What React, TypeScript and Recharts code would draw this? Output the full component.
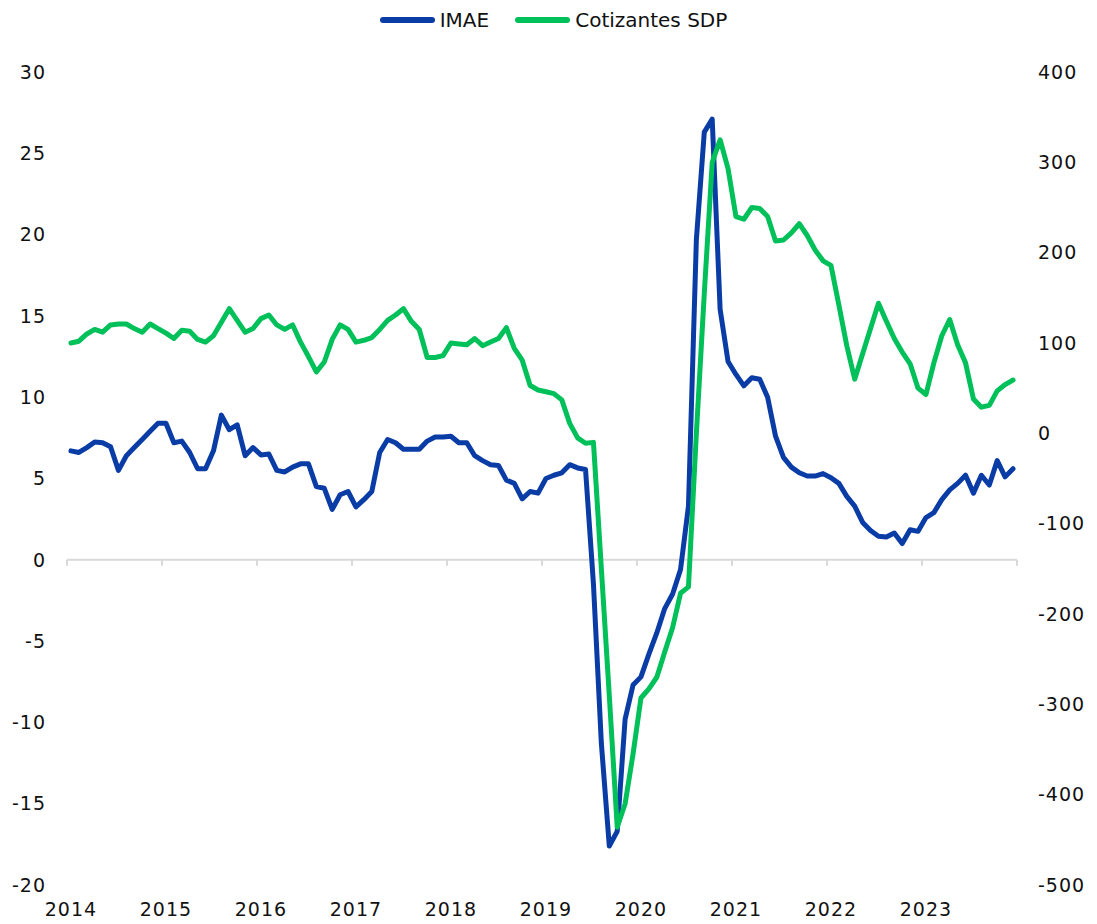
import React from 'react';
import { LineChart, Line, XAxis, YAxis, ReferenceLine, Legend } from 'recharts';

const FONT = '"DejaVu Sans", sans-serif';
const BLUE = '#0a3ca6';
const GREEN = '#00c05a';

const years = ['2014', '2015', '2016', '2017', '2018', '2019', '2020', '2021', '2022', '2023'];
const leftTicks = [-20, -15, -10, -5, 0, 5, 10, 15, 20, 25, 30];
const rightTicks = [-500, -400, -300, -200, -100, 0, 100, 200, 300, 400];

// IMAE, monthly (left axis)
const imae = [
  6.7, 6.6, 6.9, 7.25, 7.2, 6.95, 5.5, 6.4, 6.9, 7.4, 7.9, 8.4,
  8.4, 7.2, 7.3, 6.6, 5.6, 5.6, 6.7, 8.9, 8.0, 8.3, 6.4, 6.9,
  6.45, 6.5, 5.5, 5.4, 5.7, 5.9, 5.9, 4.5, 4.4, 3.1, 4.0, 4.2,
  3.25, 3.7, 4.2, 6.6, 7.4, 7.2, 6.8, 6.8, 6.8, 7.3, 7.55, 7.55,
  7.6, 7.2, 7.2, 6.4, 6.1, 5.85, 5.8, 4.9, 4.7, 3.75, 4.2, 4.1,
  5.0, 5.2, 5.35, 5.85, 5.65, 5.55, -1.5, -11.3, -17.6, -16.7, -9.8, -7.7,
  -7.2, -5.8, -4.5, -3.0, -2.1, -0.6, 3.3, 19.7, 26.3, 27.1, 15.4, 12.2,
  11.4, 10.7, 11.2, 11.1, 10.0, 7.6, 6.3, 5.7, 5.35, 5.15, 5.15, 5.3,
  5.05, 4.7, 3.9, 3.3, 2.3, 1.8, 1.45, 1.4, 1.65, 1.0, 1.85, 1.75,
  2.6, 2.9, 3.7, 4.3, 4.7, 5.2, 4.1, 5.2, 4.6, 6.1, 5.1, 5.6,
];

// Cotizantes SDP, monthly (right axis)
const cotizantes = [
  100, 102, 110, 115, 112, 120, 121, 121, 116, 112, 121, 116,
  111, 105, 114, 113, 104, 101, 108, 123, 138, 125, 112, 116,
  127, 131, 120, 115, 120, 101, 85, 68, 79, 104, 120, 115,
  101, 103, 106, 115, 125, 131, 138, 124, 115, 84, 84, 86,
  100, 99, 98, 105, 97, 101, 105, 117, 94, 81, 53, 48,
  46, 44, 37, 11, -5, -11, -10, -150, -290, -436, -410, -355,
  -293, -283, -270, -242, -215, -177, -170, 0, 155, 300, 325, 293,
  240, 237, 250, 249, 240, 213, 214, 222, 232, 219, 203, 191,
  186, 142, 97, 60, 88, 116, 144, 124, 105, 90, 77, 50,
  43, 78, 108, 126, 98, 78, 38, 29, 31, 47, 54, 59,
];

const data = imae.map((v, i) => ({ x: i + 0.5, imae: v, cotizantes: cotizantes[i] }));
const labelTicks = years.map((_, k) => k * 12 + 0.5);
const yearBounds = [...years.map((_, k) => k * 12), years.length * 12];

const series = [
  { name: 'IMAE', color: BLUE },
  { name: 'Cotizantes SDP', color: GREEN },
];

const LegendContent = () => (
  <div
    style={{
      display: 'flex',
      justifyContent: 'center',
      alignItems: 'center',
      gap: 26,
      paddingLeft: 10,
      fontFamily: FONT,
      fontSize: 20,
      lineHeight: '24px',
      color: '#111',
    }}
  >
    {series.map((s) => (
      <div key={s.name} style={{ display: 'flex', alignItems: 'center' }}>
        <svg width={55} height={8}>
          <line x1={3} y1={4} x2={52} y2={4} stroke={s.color} strokeWidth={6} strokeLinecap="round" />
        </svg>
        <span style={{ marginLeft: 5 }}>{s.name}</span>
      </div>
    ))}
  </div>
);

const tickStyle = { fill: '#111', fontSize: 19, fontFamily: FONT, letterSpacing: 1 };

export default function App() {
  return (
    <div style={{ position: 'absolute', left: 0, top: 0, background: '#fff' }}>
      <LineChart
        width={1097}
        height={924}
        data={data}
        margin={{ top: 72, right: 0, bottom: 0, left: 0 }}
        style={{ fontFamily: FONT }}
      >
        <Legend verticalAlign="middle" align="center" wrapperStyle={{ top: 8 }} content={<LegendContent />} />
        <XAxis
          dataKey="x"
          type="number"
          domain={[0, 120]}
          ticks={labelTicks}
          interval={0}
          tickFormatter={(v: number) => years[Math.floor(v / 12)]}
          axisLine={false}
          tickLine={false}
          tickSize={0}
          tickMargin={18}
          height={39}
          tick={tickStyle}
        />
        <YAxis
          yAxisId="left"
          domain={[-20, 30]}
          ticks={leftTicks}
          interval={0}
          axisLine={false}
          tickLine={false}
          tickSize={0}
          tickMargin={21}
          width={67}
          tick={tickStyle}
        />
        <YAxis
          yAxisId="right"
          orientation="right"
          domain={[-500, 400]}
          ticks={rightTicks}
          interval={0}
          axisLine={false}
          tickLine={false}
          tickSize={0}
          tickMargin={21}
          width={80}
          tick={tickStyle}
        />
        <ReferenceLine yAxisId="left" y={0} stroke="#d9d9d9" strokeWidth={2} />
        {yearBounds.map((m) => (
          <ReferenceLine
            key={m}
            yAxisId="left"
            segment={[{ x: m, y: 0 }, { x: m, y: -0.37 }]}
            stroke="#d9d9d9"
            strokeWidth={2}
          />
        ))}
        <Line
          yAxisId="left"
          type="linear"
          dataKey="imae"
          name="IMAE"
          stroke={BLUE}
          strokeWidth={5}
          strokeLinejoin="round"
          strokeLinecap="round"
          dot={false}
          isAnimationActive={false}
        />
        <Line
          yAxisId="right"
          type="linear"
          dataKey="cotizantes"
          name="Cotizantes SDP"
          stroke={GREEN}
          strokeWidth={5}
          strokeLinejoin="round"
          strokeLinecap="round"
          dot={false}
          isAnimationActive={false}
        />
      </LineChart>
    </div>
  );
}
